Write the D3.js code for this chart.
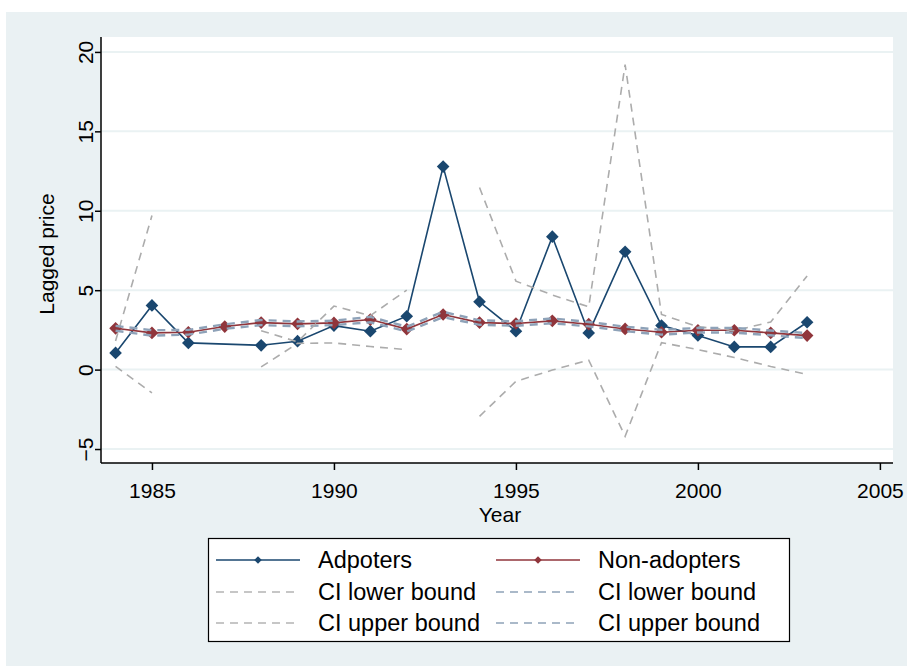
<!DOCTYPE html>
<html lang="en">
<head>
<meta charset="UTF-8">
<title>Lagged price</title>
<script src="https://d3js.org/d3.v7.min.js"></script>
<style>
  body { margin: 0; background: #ffffff; }
  text { font-family: "Liberation Sans", Arial, sans-serif; fill: #000; }
</style>
</head>
<body>
<script>
// data
var years = [1984, 1985, 1986, 1987, 1988, 1989, 1990, 1991, 1992, 1993,
             1994, 1995, 1996, 1997, 1998, 1999, 2000, 2001, 2002, 2003];
var adopters = [1.05, 4.04, 1.68, null, 1.53, 1.79, 2.77, 2.42, 3.36, 12.78,
                4.27, 2.42, 8.37, 2.31, 7.42, 2.77, 2.15, 1.43, 1.43, 2.98];
var nonAdopters = [2.6, 2.31, 2.35, 2.71, 2.96, 2.88, 2.94, 3.15, 2.55, 3.47,
                   2.96, 2.9, 3.07, 2.86, 2.56, 2.35, 2.48, 2.48, 2.31, 2.14];
var adoptLower = [0.2, -1.47, null, null, 0.17, 1.65, 1.68, 1.45, 1.26, null,
                  -2.94, -0.74, -0.03, 0.6, -4.2, 1.7, 1.26, 0.76, 0.2, -0.3];
var adoptUpper = [1.8, 9.7, null, null, 2.45, 1.75, 4.0, 3.4, 5.0, null,
                  11.46, 5.57, 4.7, 3.95, 19.2, 3.47, 2.7, 2.45, 3.0, 5.9];
var nonLower = [2.45, 2.14, 2.2, 2.57, 2.8, 2.73, 2.8, 2.98, 2.4, 3.3,
                2.82, 2.76, 2.92, 2.72, 2.42, 2.2, 2.34, 2.33, 2.16, 1.98];
var nonUpper = [2.75, 2.48, 2.5, 2.85, 3.12, 3.03, 3.08, 3.32, 2.7, 3.64,
                3.1, 3.04, 3.22, 3.0, 2.7, 2.5, 2.62, 2.63, 2.46, 2.3];
var xTicks = [1985, 1990, 1995, 2000, 2005];
var yTicks = [-5, 0, 5, 10, 15, 20];

var legendItems = [
  {label: 'Adpoters', color: '#1a476f', dash: null, marker: true},
  {label: 'Non-adopters', color: '#90353b', dash: null, marker: true},
  {label: 'CI lower bound', color: '#b4b4b4', dash: '8,6', marker: false},
  {label: 'CI lower bound', color: '#8ea2b8', dash: '8,6', marker: false},
  {label: 'CI upper bound', color: '#b4b4b4', dash: '8,6', marker: false},
  {label: 'CI upper bound', color: '#8ea2b8', dash: '8,6', marker: false}
];

var width = 907, height = 666;
var plot = {left: 101, right: 893, top: 37, bottom: 463};

var svg = d3.select('body').append('svg')
    .attr('width', width)
    .attr('height', height);

// outer graph region
svg.append('rect')
    .attr('x', 6).attr('y', 12)
    .attr('width', width - 6).attr('height', height - 12)
    .attr('fill', '#eaf1f3');

svg.append('rect')
    .attr('x', plot.left).attr('y', plot.top)
    .attr('width', plot.right - plot.left).attr('height', plot.bottom - plot.top)
    .attr('fill', '#ffffff');

var x = d3.scaleLinear().domain([1983.6, 2005.36]).range([plot.left, plot.right]);
var y = d3.scaleLinear().domain([-5.88, 20.94]).range([plot.bottom, plot.top]);

// gridlines
svg.append('g').selectAll('line')
    .data(yTicks)
    .enter().append('line')
    .attr('x1', plot.left).attr('x2', plot.right)
    .attr('y1', function (d) { return y(d); })
    .attr('y2', function (d) { return y(d); })
    .attr('stroke', '#eaf2f3')
    .attr('stroke-width', 2);

// axes
var yAxis = svg.append('g')
    .attr('transform', 'translate(' + plot.left + ',0)')
    .call(d3.axisLeft(y).tickValues(yTicks).tickSize(6).tickFormat(d3.format('d')));
yAxis.select('.domain').attr('d', 'M0,' + plot.top + 'V' + plot.bottom).attr('stroke', '#000').attr('stroke-width', 1.5);
yAxis.selectAll('.tick line').attr('stroke', '#000').attr('stroke-width', 1.5);
yAxis.selectAll('.tick text')
    .attr('font-size', 21)
    .attr('x', null).attr('dy', null)
    .attr('text-anchor', 'middle')
    .attr('transform', 'translate(-8,0) rotate(-90)');

var xAxis = svg.append('g')
    .attr('transform', 'translate(0,' + plot.bottom + ')')
    .call(d3.axisBottom(x).tickValues(xTicks).tickSize(7).tickFormat(d3.format('d')));
xAxis.select('.domain').attr('d', 'M' + plot.left + ',0H' + plot.right).attr('stroke', '#000').attr('stroke-width', 1.5);
xAxis.selectAll('.tick line').attr('stroke', '#000').attr('stroke-width', 1.5);
xAxis.selectAll('.tick text')
    .attr('font-size', 21)
    .attr('y', 20);

svg.append('text')
    .attr('x', (plot.left + plot.right) / 2 + 3)
    .attr('y', 522)
    .attr('text-anchor', 'middle')
    .attr('font-size', 21)
    .text('Year');

svg.append('text')
    .attr('transform', 'translate(54,' + ((plot.top + plot.bottom) / 2 + 4) + ') rotate(-90)')
    .attr('text-anchor', 'middle')
    .attr('font-size', 21)
    .text('Lagged price');

// series
function rows(vals) {
  return years.map(function (yr, i) { return {yr: yr, v: vals[i]}; });
}
var line = d3.line()
    .defined(function (d) { return d.v !== null; })
    .x(function (d) { return x(d.yr); })
    .y(function (d) { return y(d.v); });

var diamond = d3.symbol().type(d3.symbolSquare).size(80);

function drawSeries(vals, color) {
  var pts = rows(vals).filter(function (d) { return d.v !== null; });
  svg.append('path')
      .datum(pts)
      .attr('d', line)
      .attr('fill', 'none')
      .attr('stroke', color)
      .attr('stroke-width', 1.6);
  svg.append('g').selectAll('path')
      .data(pts)
      .enter().append('path')
      .attr('d', diamond)
      .attr('transform', function (d) { return 'translate(' + x(d.yr) + ',' + y(d.v) + ') rotate(45)'; })
      .attr('fill', color);
}

function drawDashed(vals, color, w) {
  svg.append('path')
      .datum(rows(vals))
      .attr('d', line)
      .attr('fill', 'none')
      .attr('stroke', color)
      .attr('stroke-width', w)
      .attr('stroke-dasharray', '8,6');
}

drawSeries(adopters, '#1a476f');
drawSeries(nonAdopters, '#90353b');
drawDashed(adoptLower, '#acacac', 1.6);
drawDashed(nonLower, '#8ea2b8', 2.4);
drawDashed(adoptUpper, '#acacac', 1.6);
drawDashed(nonUpper, '#8ea2b8', 2.4);

// legend
var lg = svg.append('g');
lg.append('rect')
    .attr('x', 208.5).attr('y', 538.5)
    .attr('width', 581).attr('height', 103)
    .attr('fill', '#fff')
    .attr('stroke', '#000')
    .attr('stroke-width', 1.2);

var colX = [216, 496], rowY = [560, 592, 623];
var item = lg.selectAll('.item')
    .data(legendItems)
    .enter().append('g')
    .attr('transform', function (d, i) {
      return 'translate(' + colX[i % 2] + ',' + rowY[Math.floor(i / 2)] + ')';
    });
item.append('line')
    .attr('x1', 0).attr('x2', 84)
    .attr('stroke', function (d) { return d.color; })
    .attr('stroke-width', 1.6)
    .attr('stroke-dasharray', function (d) { return d.dash; });
item.filter(function (d) { return d.marker; })
    .append('path')
    .attr('d', d3.symbol().type(d3.symbolSquare).size(28))
    .attr('transform', 'translate(42,0) rotate(45)')
    .attr('fill', function (d) { return d.color; });
item.append('text')
    .attr('x', 102)
    .attr('y', 8)
    .attr('font-size', 23.5)
    .text(function (d) { return d.label; });
</script>
</body>
</html>
